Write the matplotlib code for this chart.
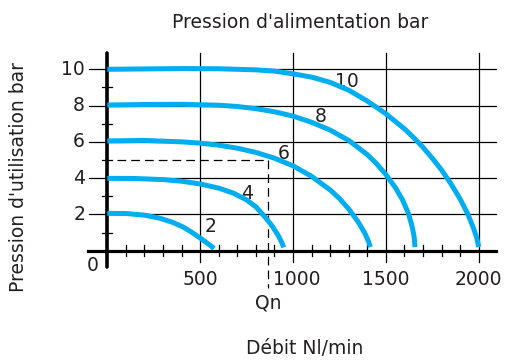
import matplotlib.pyplot as plt

# flow (Nl/min) and outlet pressure (bar)
q2 = [0, 100, 200, 280, 350, 410, 460, 500, 535, 560, 575]
p2 = [2.06, 2.05, 1.96, 1.8, 1.57, 1.3, 0.98, 0.7, 0.44, 0.25, 0.12]

q4 = [0, 150, 300, 400, 500, 600, 680, 750, 800, 850, 890, 920, 940, 950]
p4 = [3.99, 3.98, 3.92, 3.83, 3.68, 3.45, 3.17, 2.8, 2.42, 1.85, 1.33, 0.85, 0.45, 0.18]

q6 = [0, 200, 400, 500, 600, 700, 800, 900, 1000, 1100, 1200, 1250, 1300, 1350, 1385, 1405, 1417]
p6 = [6.05, 6.08, 6.0, 5.93, 5.82, 5.65, 5.42, 5.1, 4.68, 4.1, 3.35, 2.88, 2.3, 1.6, 1.0, 0.55, 0.2]

q8 = [0, 200, 400, 600, 700, 800, 900, 1000, 1100, 1200, 1300, 1400, 1450, 1500, 1550, 1590,
      1620, 1640, 1652, 1657]
p8 = [8.03, 8.06, 8.07, 8.02, 7.95, 7.83, 7.66, 7.42, 7.08, 6.65, 6.08, 5.3, 4.8, 4.2, 3.5, 2.8,
      2.1, 1.4, 0.8, 0.2]

q10 = [0, 200, 400, 600, 800, 900, 1000, 1100, 1200, 1300, 1400, 1500, 1600, 1650, 1700, 1750,
       1800, 1850, 1900, 1940, 1970, 1990, 2000]
p10 = [10.0, 10.02, 10.04, 10.03, 9.97, 9.9, 9.75, 9.57, 9.28, 8.85, 8.25, 7.55, 6.72, 6.23, 5.7, 5.1,
       4.45, 3.7, 2.85, 2.05, 1.3, 0.7, 0.2]

curves = [(q2, p2, "2", 555, 1.33), (q4, p4, "4", 752, 3.16), (q6, p6, "6", 950, 5.37),
          (q8, p8, "8", 1147, 7.42), (q10, p10, "10", 1291, 9.35)]

xticks = [500, 1000, 1500, 2000]
yticks = [2, 4, 6, 8, 10]
qn = 865  # nominal flow at 5 bar

blue = "#00AEEF"
ink = "#231F20"
fs = 13.5

fig = plt.figure(figsize=(5.08, 3.6), dpi=100)
ax = fig.add_axes([0.2112, 0.3036, 0.7311, 0.5039])
ax.set_xlim(0, 2000)
ax.set_ylim(0, 10)
ax.axis("off")

# grid
for x in xticks:
    ax.plot([x, x], [-0.63, 10.9], color="black", lw=0.9, clip_on=False)
for y in yticks:
    ax.plot([-100, 2091], [y, y], color="black", lw=0.9, clip_on=False)

# minor ticks across the axes
for x in range(100, 2000, 100):
    if x % 500:
        ax.plot([x, x], [-0.3, 0.3], color="black", lw=0.9, clip_on=False)
for y in [1, 3, 5, 7, 9]:
    ax.plot([-28, 28], [y, y], color="black", lw=0.9, clip_on=False)

# main axes
ax.plot([-104, 2091], [0, 0], color="black", lw=2.3, clip_on=False)
ax.plot([0, 0], [-0.9, 10.9], color="black", lw=2.6, clip_on=False,
        solid_capstyle="round")

# dashed Qn marker
ax.plot([50, qn], [5, 5], color="black", lw=0.9, ls=(0, (7, 4)), clip_on=False)
ax.plot([qn, qn], [5, -2.06], color="black", lw=0.9, ls=(0, (7, 4)), clip_on=False)

for q, p, lab, lx, ly in curves:
    ax.plot(q, p, color=blue, lw=3.6, solid_capstyle="butt",
            solid_joinstyle="round", clip_on=False, zorder=5)
    ax.text(lx, ly, lab, fontsize=fs, color=ink, ha="center", va="center")

for x in xticks:
    ax.text(x + (20 if x == 1000 else 0), -1.56, str(x), fontsize=fs, color=ink,
            ha="center", va="center")
for y in yticks:
    ax.text(-120, y, str(y), fontsize=fs, color=ink, ha="right", va="center")
ax.text(-80, -0.82, "0", fontsize=fs, color=ink, ha="center", va="center")
ax.text(qn, -2.88, "Qn", fontsize=fs, color=ink, ha="center", va="center")

fig.text(0.5915, 0.921, "Pression d'alimentation bar", fontsize=fs, color=ink,
         ha="center", va="baseline")
fig.text(0.0374, 0.509, "Pression d'utilisation bar", fontsize=fs, color=ink,
         ha="center", va="center", rotation=90)
fig.text(0.600, 0.0306, "Débit Nl/min", fontsize=fs, color=ink,
         ha="center", va="center")

fig.savefig("out.png", dpi=100)
